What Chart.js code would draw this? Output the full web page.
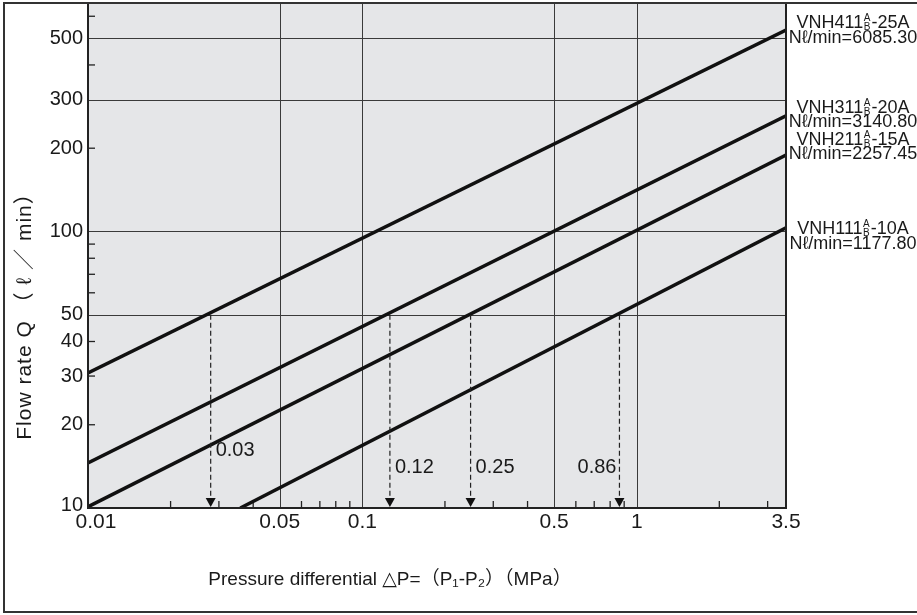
<!DOCTYPE html>
<html>
<head>
<meta charset="utf-8">
<script src="https://cdn.jsdelivr.net/npm/chart.js@4/dist/chart.umd.min.js"></script>
<style>
html,body{margin:0;padding:0;background:#fff;}
#wrap{width:917px;height:615px;position:relative;}
</style>
</head>
<body>
<div id="wrap"><canvas id="c" width="917" height="615"></canvas></div>
<script>
// ---- data ----
const modelPrefixes = ['VNH411', 'VNH311', 'VNH211', 'VNH111'];
const modelSuffixes = ['-25A', '-20A', '-15A', '-10A'];
const flowLabels = ['Nℓ/min=6085.30', 'Nℓ/min=3140.80', 'Nℓ/min=2257.45', 'Nℓ/min=1177.80'];

const dp411 = [0.01, 3.5];   const q411 = [30.8, 535];
const dp311 = [0.01, 3.5];   const q311 = [14.55, 262];
const dp211 = [0.01, 3.5];   const q211 = [10.1, 189];
const dp111 = [0.0359, 3.5]; const q111 = [10, 103];

const arrowDP = [0.028, 0.126, 0.248, 0.865];
const arrowQ = 50;
const arrowLabels = ['0.03', '0.12', '0.25', '0.86'];

const xTickValues = [0.01, 0.05, 0.1, 0.5, 1, 3.5];
const xTickLabels = ['0.01', '0.05', '0.1', '0.5', '1', '3.5'];
const xGridValues = [0.05, 0.1, 0.5, 1];
const xMinorValues = [0.02, 0.03, 0.04, 0.06, 0.07, 0.08, 0.09, 0.2, 0.3, 0.4, 0.6, 0.7, 0.8, 0.9, 2, 3];

const yTickValues = [10, 20, 30, 40, 50, 100, 200, 300, 500];
const yTickLabels = ['10', '20', '30', '40', '50', '100', '200', '300', '500'];
const yGridValues = [50, 100, 300, 500];
const yMinorValues = [20, 30, 40, 60, 70, 80, 90, 200, 400, 600];

const xTitle = 'Pressure differential △P=（P₁-P₂）（MPa）';
const yTitle = 'Flow rate Q （ ℓ ／ min）';

// ---- build datasets ----
function pts(xs, ys) { return xs.map((x, i) => ({ x: x, y: ys[i] })); }
const seriesData = [pts(dp411, q411), pts(dp311, q311), pts(dp211, q211), pts(dp111, q111)];

const FONT = '"Liberation Sans", Arial, "DejaVu Sans", "Noto Sans CJK JP", sans-serif';
const INK = '#1a1a1a';

// label layout (pixel positions of the right-hand series labels)
const labelRowsY = [[23, 38], [108, 122], [140, 154], [229, 244]];
const arrowLabelY = [450, 467, 467, 467];

const decor = {
  id: 'decor',
  beforeDatasetsDraw(chart) {
    const { ctx, chartArea: a, scales: { x, y } } = chart;
    ctx.save();
    ctx.fillStyle = '#e5e6e8';
    ctx.fillRect(a.left, a.top, a.right - a.left, a.bottom - a.top);
    ctx.strokeStyle = '#3a3a3a';
    ctx.lineWidth = 1;
    xGridValues.forEach(v => {
      const px = Math.round(x.getPixelForValue(v)) + 0.5;
      ctx.beginPath(); ctx.moveTo(px, a.top); ctx.lineTo(px, a.bottom); ctx.stroke();
    });
    yGridValues.forEach(v => {
      const py = Math.round(y.getPixelForValue(v)) + 0.5;
      ctx.beginPath(); ctx.moveTo(a.left, py); ctx.lineTo(a.right, py); ctx.stroke();
    });
    ctx.lineWidth = 1.3;
    ctx.strokeStyle = '#222';
    xMinorValues.forEach(v => {
      const px = x.getPixelForValue(v);
      ctx.beginPath(); ctx.moveTo(px, a.bottom); ctx.lineTo(px, a.bottom - 7); ctx.stroke();
    });
    yMinorValues.forEach(v => {
      const py = y.getPixelForValue(v);
      if (py < a.top) return;
      ctx.beginPath(); ctx.moveTo(a.left, py); ctx.lineTo(a.left + 7, py); ctx.stroke();
    });
    ctx.restore();
  },
  afterDatasetsDraw(chart) {
    const { ctx, chartArea: a, scales: { x, y } } = chart;
    ctx.save();
    ctx.strokeStyle = '#222';
    ctx.lineWidth = 2;
    ctx.beginPath();
    ctx.moveTo(a.left, a.top); ctx.lineTo(a.left, a.bottom); ctx.lineTo(a.right, a.bottom); ctx.lineTo(a.right, a.top);
    ctx.stroke();

    // dashed arrows
    arrowDP.forEach((v, i) => {
      const px = x.getPixelForValue(v);
      const pTop = y.getPixelForValue(arrowQ);
      const tip = a.bottom - 1;
      ctx.strokeStyle = '#222';
      ctx.lineWidth = 1.2;
      ctx.setLineDash([5, 3]);
      ctx.beginPath(); ctx.moveTo(px, pTop); ctx.lineTo(px, tip - 8); ctx.stroke();
      ctx.setLineDash([]);
      ctx.fillStyle = '#111';
      ctx.beginPath(); ctx.moveTo(px - 5, tip - 9); ctx.lineTo(px + 5, tip - 9); ctx.lineTo(px, tip); ctx.closePath(); ctx.fill();
      ctx.fillStyle = INK;
      ctx.font = '20px ' + FONT;
      ctx.textBaseline = 'middle';
      const ly = arrowLabelY[i];
      if (i === arrowDP.length - 1) {
        ctx.textAlign = 'right';
        ctx.fillText(arrowLabels[i], px - 3, ly);
      } else {
        ctx.textAlign = 'left';
        ctx.fillText(arrowLabels[i], px + 5, ly);
      }
    });

    // tick labels
    ctx.fillStyle = INK;
    ctx.textBaseline = 'middle';
    ctx.font = '21px ' + FONT;
    ctx.textAlign = 'center';
    xTickValues.forEach((v, i) => {
      let px = x.getPixelForValue(v);
      if (i === 0) px += 8;
      ctx.fillText(xTickLabels[i], px, a.bottom + 14);
    });
    ctx.font = '20px ' + FONT;
    ctx.textAlign = 'right';
    yTickValues.forEach((v, i) => {
      let py = y.getPixelForValue(v);
      if (i === 0) py -= 3;
      ctx.fillText(yTickLabels[i], a.left - 5, py);
    });

    // axis titles
    ctx.font = '19px ' + FONT;
    ctx.textAlign = 'center';
    ctx.fillText(xTitle, 390, 580);
    ctx.save();
    ctx.translate(25, 311);
    ctx.rotate(-Math.PI / 2);
    ctx.font = '21px ' + FONT;
    try { ctx.letterSpacing = '1px'; } catch (e) {}
    ctx.fillText(yTitle, 0, 0);
    try { ctx.letterSpacing = '0px'; } catch (e) {}
    ctx.restore();

    // right side series labels
    const cx = 853;
    seriesData.forEach((d, i) => {
      const y1 = labelRowsY[i][0], y2 = labelRowsY[i][1];
      ctx.font = '18px ' + FONT;
      const wP = ctx.measureText(modelPrefixes[i]).width;
      const wS = ctx.measureText(modelSuffixes[i]).width;
      ctx.font = '10px ' + FONT;
      const wAB = ctx.measureText('A').width + 1.5;
      const total = wP + wAB + wS;
      const sx = cx - total / 2;
      ctx.textAlign = 'left';
      ctx.font = '18px ' + FONT;
      ctx.fillText(modelPrefixes[i], sx, y1);
      ctx.font = '10px ' + FONT;
      ctx.fillText('A', sx + wP + 0.5, y1 - 4.5);
      ctx.fillText('B', sx + wP + 0.5, y1 + 4.5);
      ctx.font = '18px ' + FONT;
      ctx.fillText(modelSuffixes[i], sx + wP + wAB, y1);
      ctx.textAlign = 'center';
      ctx.fillText(flowLabels[i], cx, y2);
    });

    // outer frame
    ctx.strokeStyle = '#333';
    ctx.lineWidth = 2;
    ctx.beginPath();
    ctx.moveTo(917, 3); ctx.lineTo(4, 3); ctx.lineTo(4, 612); ctx.lineTo(917, 612);
    ctx.stroke();
    ctx.restore();
  }
};

new Chart(document.getElementById('c'), {
  type: 'scatter',
  data: {
    datasets: seriesData.map((d, i) => ({
      label: modelPrefixes[i] + modelSuffixes[i],
      data: d,
      showLine: true,
      borderColor: '#111',
      borderWidth: 3.5,
      pointRadius: 0,
      pointHoverRadius: 0,
      fill: false
    }))
  },
  options: {
    responsive: false,
    animation: false,
    devicePixelRatio: 1,
    layout: { padding: { left: 0, top: 3, right: 131, bottom: 0 } },
    plugins: { legend: { display: false }, tooltip: { enabled: false } },
    scales: {
      x: {
        type: 'logarithmic', min: 0.01, max: 3.5,
        grid: { display: false }, border: { display: false },
        ticks: { display: false },
        afterFit(s) { s.height = 107; }
      },
      y: {
        type: 'logarithmic', min: 10, max: 670,
        grid: { display: false }, border: { display: false },
        ticks: { display: false },
        afterFit(s) { s.width = 88; }
      }
    }
  },
  plugins: [decor]
});
</script>
</body>
</html>
